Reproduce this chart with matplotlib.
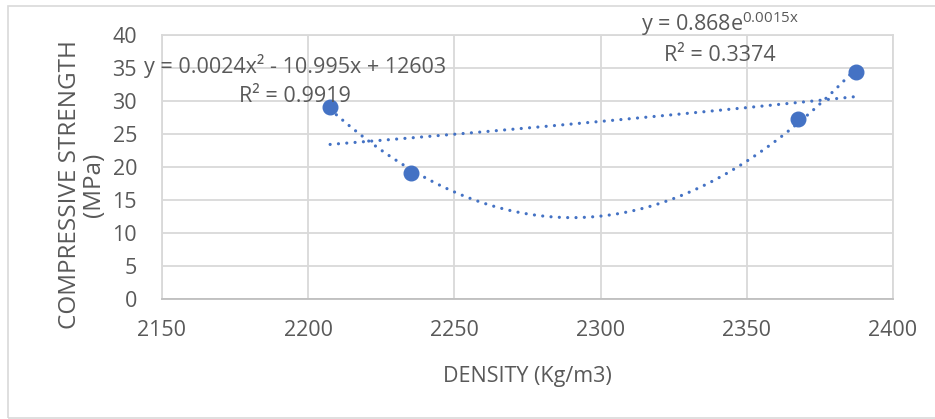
import matplotlib
matplotlib.use("Agg")
import matplotlib.pyplot as plt
import numpy as np
from matplotlib.patches import Rectangle

# values
density = [2207.5, 2235.2, 2367.5, 2387.3]
strength = [29.1, 19.1, 27.3, 34.4]
x_ticks = [2150, 2200, 2250, 2300, 2350, 2400]
y_ticks = [0, 5, 10, 15, 20, 25, 30, 35, 40]
poly_label = "y = 0.0024x² - 10.995x + 12603\nR² = 0.9919"
exp_label = "y = 0.868e$^{\\mathrm{0.0015x}}$\nR² = 0.3374"

blue = "#4472C4"
grey = "#595959"
gridc = "#d9d9d9"
fs = 15.5

plt.rcParams['font.family'] = ['Open Sans', 'DejaVu Sans']
plt.rcParams['mathtext.fontset'] = 'custom'
plt.rcParams['mathtext.rm'] = 'Open Sans'

fig = plt.figure(figsize=(9.35, 4.19), dpi=100)
fig.patches.append(Rectangle((8 / 935, 1 / 419), 1.2, 412 / 419, transform=fig.transFigure,
                             fill=False, edgecolor=gridc, linewidth=1.2))
ax = fig.add_axes([162 / 935, 1 - 299 / 419, (893 - 162) / 935, (299 - 35) / 419])

x = np.array(density)
y = np.array(strength)

# trendlines fitted from the points
xs = np.linspace(x.min(), x.max(), 200)
p = np.polyfit(x, y, 2)
ax.plot(xs, np.polyval(p, xs), color=blue, lw=2.3, linestyle=(0, (0.01, 2.6)),
        dash_capstyle='round', zorder=3)
b, a = np.polyfit(x, np.log(y), 1)
ax.plot(xs, np.exp(a) * np.exp(b * xs), color=blue, lw=2.3, linestyle=(0, (0.01, 2.6)),
        dash_capstyle='round', zorder=3)

ax.plot(x, y, 'o', color=blue, markersize=10.5, zorder=4)

ax.set_xlim(2150, 2400)
ax.set_ylim(0, 40)
ax.set_xticks(x_ticks)
ax.set_yticks(y_ticks)
ax.grid(True, color=gridc, linewidth=1.3)
ax.set_axisbelow(True)
for s in ax.spines.values():
    s.set_color(gridc)
    s.set_linewidth(1.3)
ax.spines['bottom'].set_color("#bfbfbf")
ax.tick_params(length=0, labelsize=fs, labelcolor=grey)
ax.tick_params(axis='y', pad=18)
ax.tick_params(axis='x', pad=15)

ax.set_xlabel("DENSITY (Kg/m3)", fontsize=fs, color=grey, labelpad=18)
ax.set_ylabel("COMPRESSIVE STRENGTH\n(MPa)", fontsize=17.5, color=grey, linespacing=1.0)
ax.yaxis.set_label_coords(-0.077, 0.432)

ax.text(2195.5, 33.1, poly_label, ha='center', va='center', fontsize=fs, color=grey,
        linespacing=1.45, zorder=5)
ax.text(2340.8, 39.6, exp_label, ha='center', va='center', fontsize=fs, color=grey,
        linespacing=1.45, clip_on=False, zorder=5)

fig.savefig("out.png", dpi=100)
